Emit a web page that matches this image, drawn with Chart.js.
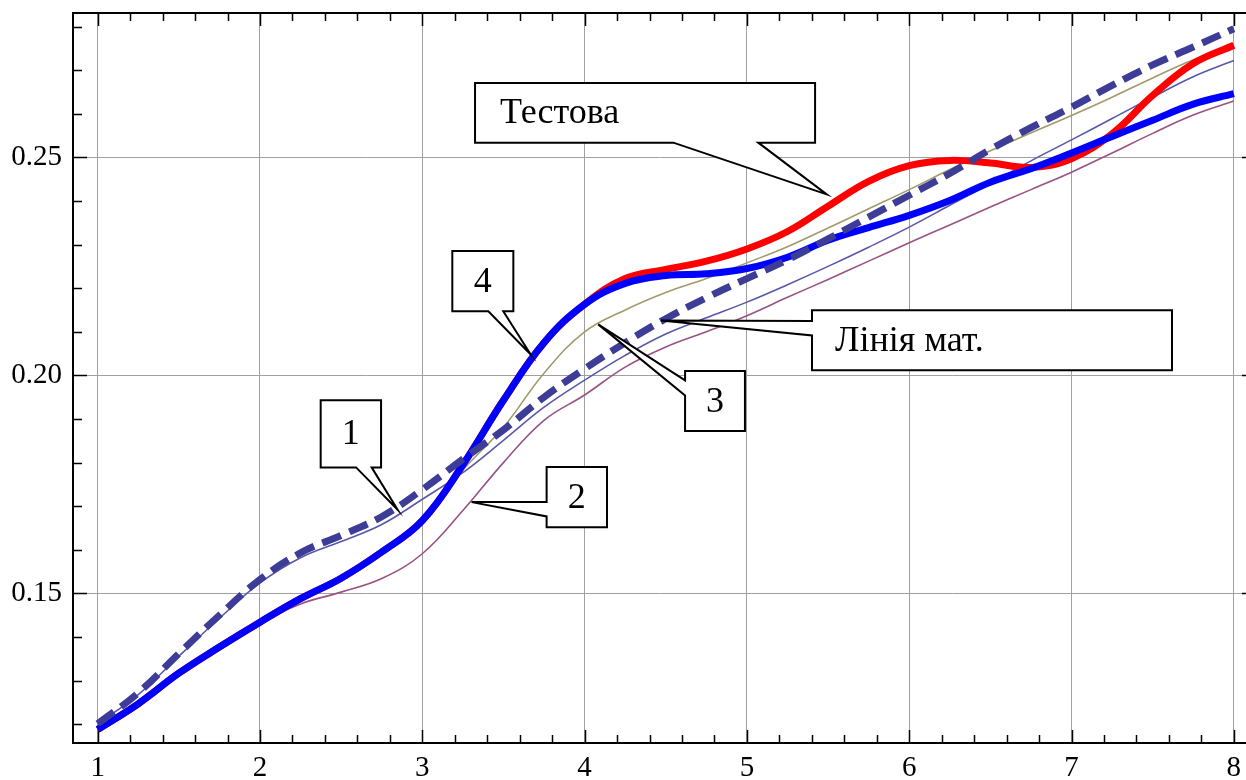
<!DOCTYPE html>
<html>
<head>
<meta charset="utf-8">
<script src="https://cdn.jsdelivr.net/npm/chart.js@4.4.0/dist/chart.umd.min.js"></script>
<style>
  html, body { margin: 0; padding: 0; background: #fff; }
  canvas { display: block; }
</style>
</head>
<body>
<canvas id="curves" width="1246" height="780"></canvas>
<script>
// x positions of the sampled points
const xs = [1, 1.25, 1.5, 1.75, 2, 2.25, 2.5, 2.75, 3, 3.25, 3.5, 3.75, 4, 4.25, 4.5,
  4.75, 5, 5.25, 5.5, 5.75, 6, 6.25, 6.5, 6.75, 7, 7.25, 7.5, 7.75, 8];

// "Тестова" (thick red)
const testova = [0.1188, 0.1247, 0.1317, 0.1377, 0.1434, 0.1488, 0.1535, 0.1595, 0.1667, 0.1795,
  0.1943, 0.2075, 0.2163, 0.2222, 0.2243, 0.2262, 0.2290, 0.2330, 0.2388, 0.2445, 0.2481,
  0.2493, 0.2487, 0.2477, 0.2497, 0.2554, 0.2642, 0.2715, 0.2757];
// curve 4 (thick blue)
const curve4 = [0.1188, 0.1247, 0.1317, 0.1377, 0.1434, 0.1488, 0.1535, 0.1595, 0.1667, 0.1795,
  0.1943, 0.2075, 0.2163, 0.2211, 0.2229, 0.2233, 0.2245, 0.2271, 0.2310, 0.2339, 0.2367,
  0.2401, 0.2443, 0.2474, 0.2510, 0.2548, 0.2585, 0.2622, 0.2646];
// "Лінія мат." (dashed)
const liniaMat = [0.1201, 0.1272, 0.1362, 0.1450, 0.1532, 0.1593, 0.1633, 0.1676, 0.1738, 0.1808,
  0.1875, 0.1950, 0.2015, 0.2075, 0.2130, 0.2178, 0.2222, 0.2265, 0.2313, 0.2363, 0.2413,
  0.2463, 0.2518, 0.2568, 0.2615, 0.2665, 0.2712, 0.2753, 0.2795];
// curve 1 (thin slate blue)
const curve1 = [0.1201, 0.1268, 0.1356, 0.1443, 0.1524, 0.1582, 0.1619, 0.1658, 0.1716, 0.1777,
  0.1851, 0.1927, 0.1989, 0.2046, 0.2095, 0.2132, 0.2168, 0.2208, 0.2250, 0.2294, 0.2340,
  0.2390, 0.2440, 0.2492, 0.2540, 0.2589, 0.2638, 0.2685, 0.2722];
// curve 2 (thin mauve)
const curve2 = [0.1188, 0.1247, 0.1317, 0.1377, 0.1434, 0.1476, 0.1503, 0.1534, 0.1591, 0.1690,
  0.1800, 0.1897, 0.1955, 0.2019, 0.2065, 0.2100, 0.2137, 0.2179, 0.2220, 0.2262, 0.2304,
  0.2345, 0.2386, 0.2426, 0.2466, 0.2510, 0.2555, 0.2597, 0.2629];
// curve 3 (thin olive)
const curve3 = [0.1188, 0.1247, 0.1317, 0.1377, 0.1434, 0.1488, 0.1535, 0.1595, 0.1667, 0.1783,
  0.1881, 0.2005, 0.2100, 0.2150, 0.2190, 0.2222, 0.2258, 0.2295, 0.2338, 0.2382, 0.2426,
  0.2472, 0.2515, 0.2556, 0.2596, 0.2638, 0.2682, 0.2724, 0.2757];

const xTicks = [1, 2, 3, 4, 5, 6, 7, 8];
const yTicks = [0.15, 0.20, 0.25];

// callout boxes, in data units
const callouts = [
  { text: 'Тестова', box: [3.325, 0.26704, 5.420, 0.25337], edge: 'bottom', base: [4.547, 5.070], tip: [5.492, 0.2415], pad: 25 },
  { text: 'Лінія мат.', box: [5.401, 0.21491, 7.619, 0.20115], edge: 'left', base: [0.21245, 0.20917], tip: [4.471, 0.2126], pad: 23 },
  { text: '4', box: [3.185, 0.22851, 3.561, 0.21468], edge: 'bottom', base: [3.407, 3.499], tip: [3.668, 0.2048] },
  { text: '3', box: [4.619, 0.20099, 4.988, 0.18722], edge: 'left', base: [0.19885, 0.19541], tip: [4.084, 0.2117] },
  { text: '1', box: [2.374, 0.19427, 2.746, 0.17890], edge: 'bottom', base: [2.592, 2.688], tip: [2.848, 0.1692] },
  { text: '2', box: [3.766, 0.17897, 4.138, 0.16520], edge: 'left', base: [0.17094, 0.16766], tip: [3.304, 0.17094] }
];

const pts = ys => xs.map((x, i) => ({ x: x, y: ys[i] }));

const frame = {
  id: 'frame',
  beforeDatasetsDraw(chart) {
    const { ctx, chartArea: a, scales: { x, y } } = chart;
    const rightEdge = a.right + 10; // the right frame sits just past the canvas
    ctx.save();
    ctx.strokeStyle = '#000';
    ctx.lineWidth = 1.5;
    ctx.beginPath();
    for (let v = 1; v <= 8.001; v += 0.2) {
      const major = Math.abs(v - Math.round(v)) < 1e-6;
      const len = major ? 13 : 8;
      const px = Math.round(x.getPixelForValue(v)) + 0.5;
      ctx.moveTo(px, a.bottom); ctx.lineTo(px, a.bottom - len);
      ctx.moveTo(px, a.top); ctx.lineTo(px, a.top + len);
    }
    for (let k = 12; k <= 28; k++) {
      const len = k % 5 === 0 ? 14 : 9;
      const py = Math.round(y.getPixelForValue(k / 100)) + 0.5;
      ctx.moveTo(a.left, py); ctx.lineTo(a.left + len, py);
      ctx.moveTo(rightEdge, py); ctx.lineTo(rightEdge - len, py);
    }
    ctx.stroke();
    ctx.lineWidth = 2;
    ctx.beginPath();
    ctx.moveTo(rightEdge, a.top); ctx.lineTo(a.left, a.top);
    ctx.lineTo(a.left, a.bottom); ctx.lineTo(rightEdge, a.bottom);
    ctx.stroke();
    ctx.restore();
  },
  afterDraw(chart) {
    const { ctx, scales: { x, y } } = chart;
    ctx.save();
    ctx.lineWidth = 2;
    ctx.strokeStyle = '#000';
    ctx.lineJoin = 'miter';
    ctx.font = '36px "Liberation Serif", "Times New Roman", serif';
    ctx.textBaseline = 'middle';
    callouts.forEach(c => {
      const l = x.getPixelForValue(c.box[0]), t = y.getPixelForValue(c.box[1]);
      const r = x.getPixelForValue(c.box[2]), b = y.getPixelForValue(c.box[3]);
      const tx = x.getPixelForValue(c.tip[0]), ty = y.getPixelForValue(c.tip[1]);
      ctx.beginPath();
      if (c.edge === 'bottom') {
        const b1 = x.getPixelForValue(c.base[0]), b2 = x.getPixelForValue(c.base[1]);
        ctx.moveTo(l, t); ctx.lineTo(r, t); ctx.lineTo(r, b);
        ctx.lineTo(b2, b); ctx.lineTo(tx, ty); ctx.lineTo(b1, b); ctx.lineTo(l, b);
      } else {
        const b1 = y.getPixelForValue(c.base[0]), b2 = y.getPixelForValue(c.base[1]);
        ctx.moveTo(l, t); ctx.lineTo(r, t); ctx.lineTo(r, b); ctx.lineTo(l, b);
        ctx.lineTo(l, b2); ctx.lineTo(tx, ty); ctx.lineTo(l, b1);
      }
      ctx.closePath();
      ctx.fillStyle = '#fff';
      ctx.fill();
      ctx.stroke();
      ctx.fillStyle = '#000';
      if (c.pad) {
        ctx.textAlign = 'left';
        ctx.fillText(c.text, l + c.pad, (t + b) / 2 + 1);
      } else {
        ctx.textAlign = 'center';
        ctx.fillText(c.text, (l + r) / 2, (t + b) / 2 + 1);
      }
    });
    ctx.restore();
  }
};

const thin = (label, data, color) => ({
  label, data: pts(data), borderColor: color, borderWidth: 1.6
});

new Chart(document.getElementById('curves'), {
  type: 'line',
  data: {
    datasets: [
      { label: 'Лінія мат.', data: pts(liniaMat), borderColor: '#3d3d98', borderWidth: 7, borderDash: [20, 9] },
      { label: '4', data: pts(curve4), borderColor: '#0000ff', borderWidth: 7 },
      { label: 'Тестова', data: pts(testova), borderColor: '#ff0000', borderWidth: 7 },
      thin('1', curve1, '#5858aa'),
      thin('2', curve2, '#9a5282'),
      thin('3', curve3, '#a29a6a')
    ]
  },
  options: {
    responsive: false,
    animation: false,
    devicePixelRatio: 1,
    layout: { padding: { top: 13, left: 0, right: 0, bottom: 0 } },
    elements: {
      point: { radius: 0 },
      line: { tension: 0.4, borderCapStyle: 'butt', fill: false }
    },
    plugins: { legend: { display: false }, tooltip: { enabled: false } },
    scales: {
      x: {
        type: 'linear',
        min: 0.848,
        max: 8.075,
        afterBuildTicks: s => { s.ticks = xTicks.map(v => ({ value: v })); },
        afterFit: s => { s.height = 37; s.paddingLeft = 0; s.paddingRight = 0; },
        grid: { color: '#a0a0a0', lineWidth: 1, drawTicks: false },
        border: { display: false },
        ticks: {
          padding: 8,
          color: '#000',
          maxRotation: 0,
          font: { family: '"Liberation Serif", serif', size: 29 },
          callback: v => String(v)
        }
      },
      y: {
        min: 0.1157,
        max: 0.2831,
        afterBuildTicks: s => { s.ticks = yTicks.map(v => ({ value: v })); },
        afterFit: s => { s.width = 73; s.paddingTop = 0; s.paddingBottom = 0; },
        grid: { color: '#a0a0a0', lineWidth: 1, drawTicks: false },
        border: { display: false },
        ticks: {
          padding: 11,
          color: '#000',
          font: { family: '"Liberation Serif", serif', size: 29 },
          callback: v => v.toFixed(2)
        }
      }
    }
  },
  plugins: [frame]
});
</script>
</body>
</html>
